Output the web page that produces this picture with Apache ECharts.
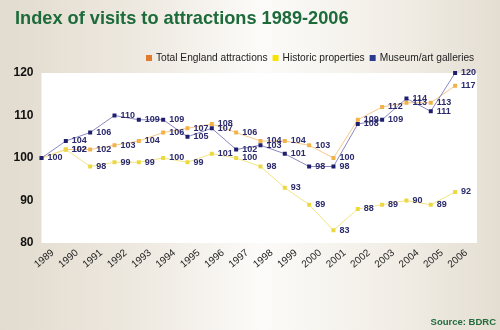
<!DOCTYPE html>
<html>
<head>
<meta charset="utf-8">
<script src="https://cdn.jsdelivr.net/npm/echarts@6/dist/echarts.min.js"></script>
<style>
html,body{margin:0;padding:0;}
body{width:500px;height:330px;background:linear-gradient(to right,#e2dbce 0%,#efeae2 30%,#fcfbf9 52%,#f1ede5 80%,#e4ded2 100%);}
#c{width:500px;height:330px;}
</style>
</head>
<body>
<div id="c"></div>
<script>
const years = [1989,1990,1991,1992,1993,1994,1995,1996,1997,1998,1999,2000,2001,2002,2003,2004,2005,2006];
const totalEngland = [100,102,102,103,104,106,107,108,106,104,104,103,100,109,112,113,113,117];
const historic = [100,102,98,99,99,100,99,101,100,98,93,89,83,88,89,90,89,92];
const museum = [100,104,106,110,109,109,105,107,102,103,101,98,98,108,109,114,111,120];
const yTicks = [80,90,100,110,120];

const chart = echarts.init(document.getElementById('c'), null, {renderer:'canvas'});
const font = 'Liberation Sans, Arial, sans-serif';
function pairs(arr){ return years.map((y,i)=>[y,arr[i]]); }
function mkSeries(name, arr, lineColor, markColor, skipFirst){
  return {
    name, type:'line', data: pairs(arr),
    symbol:'rect', symbolSize:4, showSymbol:true,
    lineStyle:{color:lineColor,width:1},
    itemStyle:{color:markColor},
    label:{show:true, position:'right', distance:4, color:'#2b2a6c', fontSize:9, fontWeight:'bold', fontFamily:font,
      formatter:p=> (skipFirst && p.dataIndex===0) ? '' : String(p.value[1])},
    emphasis:{disabled:true}, animation:false, z: 3
  };
}
chart.setOption({
  backgroundColor:'transparent',
  animation:false,
  title:{text:'Index of visits to attractions 1989-2006', left:10, top:5,
    textStyle:{color:'#1d6b3b', fontSize:18.2, fontWeight:'bold', fontFamily:font}},
  graphic:[{type:'text', right:4, bottom:3, style:{text:'Source: BDRC', fill:'#1f6b3c', font:'bold 9.5px '+font}}],
  legend:{left:141, top:48, itemWidth:6, itemHeight:6, itemGap:5, icon:'rect',
    textStyle:{color:'#222', fontSize:10.2, fontFamily:font, padding:[0,0,0,-1]},
    data:[
      {name:'Total England attractions', itemStyle:{color:'#e07a2c'}},
      {name:'Historic properties', itemStyle:{color:'#f6e400'}},
      {name:'Museum/art galleries', itemStyle:{color:'#2a3a90'}}
    ]},
  grid:{left:41.5, top:73, right:23, bottom:87, show:true, backgroundColor:'#ffffff', borderWidth:0},
  xAxis:{type:'value', min:1989, max:2006.9, interval:1,
    axisLine:{show:false}, axisTick:{show:false}, splitLine:{show:false},
    axisLabel:{rotate:40, align:'center', verticalAlign:'middle', margin:18, color:'#222', fontSize:10, fontFamily:font,
      padding:[0,0,0,7],
      showMaxLabel:false,
      formatter:v=> years.indexOf(v)>=0 ? String(v) : ''}},
  yAxis:{type:'value', min:yTicks[0], max:yTicks[yTicks.length-1], interval:10,
    axisLine:{show:false}, axisTick:{show:false}, splitLine:{show:false},
    axisLabel:{color:'#111', fontSize:12, fontWeight:'bold', fontFamily:font, margin:8}},
  series:[
    mkSeries('Total England attractions', totalEngland, '#f6c98a', '#f2b24a', true),
    mkSeries('Historic properties', historic, '#f1e487', '#ecd840', true),
    mkSeries('Museum/art galleries', museum, '#8b88c2', '#1f1f6e', false)
  ]
});
</script>
</body>
</html>
